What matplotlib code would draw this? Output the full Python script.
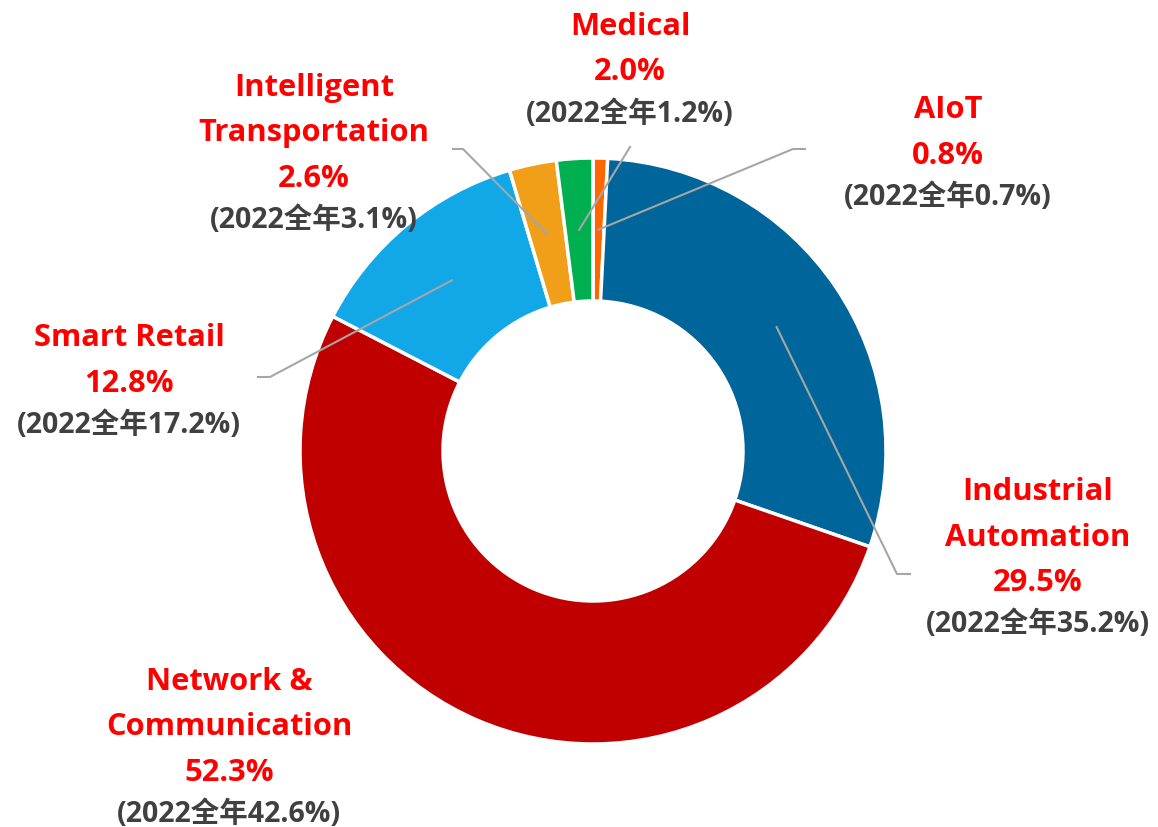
import numpy as np
import matplotlib
matplotlib.use("Agg")
import matplotlib.pyplot as plt

# data, clockwise from 12 o'clock
categories = ["AIoT", "Industrial\nAutomation", "Network &\nCommunication",
              "Smart Retail", "Intelligent\nTransportation", "Medical"]
share_2023 = [0.8, 29.5, 52.3, 12.8, 2.6, 2.0]
share_2022 = [0.7, 35.2, 42.6, 17.2, 3.1, 1.2]
colors = ["#FF6600", "#00659A", "#C00000", "#12A8E8", "#F19E19", "#00B050"]

W, H = 1158, 828
fig = plt.figure(figsize=(W / 100, H / 100), dpi=100)
ax = fig.add_axes([0, 0, 1, 1])

cx, cy = 593, H - 452
R, r_in = 293, 150

wedges, _ = ax.pie(share_2023, colors=colors, startangle=90, counterclock=False,
                   radius=R, center=(cx, cy), frame=True,
                   wedgeprops=dict(width=R - r_in, edgecolor="white", linewidth=2.5))
ax.set_xlim(0, W)
ax.set_ylim(0, H)
ax.set_aspect("equal")
ax.axis("off")

# label layout (pixel coords from the top-left): text center x, first line y,
# leader elbow and end
layout = {
    0: dict(x=948, y=110, elbow=(793, 150), end=(805, 150)),
    1: dict(x=1038, y=492, elbow=(897, 575), end=(910, 575)),
    2: dict(x=229, y=682, elbow=None, end=None),
    3: dict(x=129, y=338, elbow=(270, 378), end=(258, 378)),
    4: dict(x=314, y=88, elbow=(463, 150), end=(453, 150)),
    5: dict(x=630, y=27, elbow=(630, 148), end=None),
}

red_font = dict(family=["Open Sans", "DejaVu Sans"], fontweight="bold", fontsize=22.2, color="#FF0000")
gray_font = dict(family=["Open Sans", "Noto Sans CJK SC"], fontweight="bold", fontsize=20.5, color="#404040")

line_step = 45.5
r_mid = (R + r_in) / 2
for i, w in enumerate(wedges):
    lay = layout[i]
    lines = categories[i].split("\n") + ["%.1f%%" % share_2023[i]]
    y = lay["y"]
    for ln in lines:
        ax.text(lay["x"], H - y, ln, ha="center", va="center", **red_font)
        y += line_step
    y -= line_step
    ax.text(lay["x"], H - (y + 42), "(2022全年%.1f%%)" % share_2022[i],
            ha="center", va="center", **gray_font)

    if lay["elbow"] is not None:
        ang = np.deg2rad((w.theta1 + w.theta2) / 2)
        sx, sy = cx + r_mid * np.cos(ang), cy + r_mid * np.sin(ang)
        xs = [sx, lay["elbow"][0]]
        ys = [sy, H - lay["elbow"][1]]
        if lay["end"] is not None:
            xs.append(lay["end"][0])
            ys.append(H - lay["end"][1])
        ax.plot(xs, ys, color="#A6A6A6", lw=1.5, zorder=3)

fig.savefig("out.png", dpi=100)
